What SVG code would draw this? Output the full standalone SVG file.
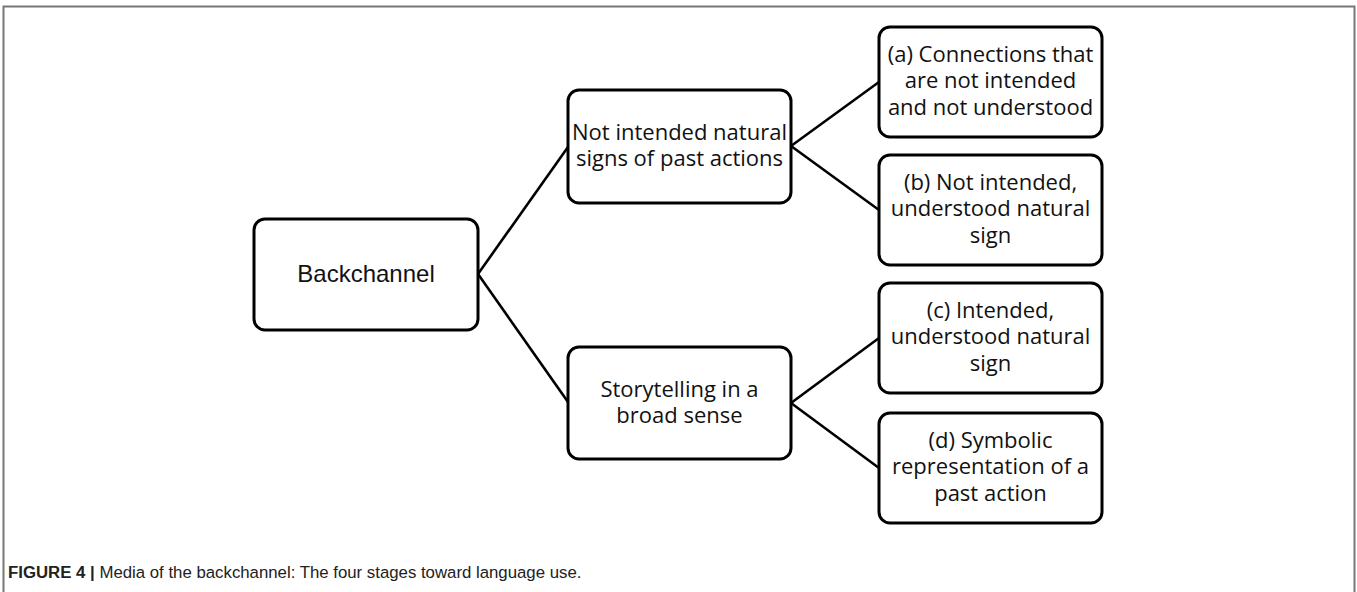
<svg xmlns="http://www.w3.org/2000/svg" width="1357" height="592" viewBox="0 0 1357 592">
  <style>
    .box { fill: #ffffff; stroke: #000000; stroke-width: 3; }
    .edge { stroke: #000000; stroke-width: 2.6; fill: none; }
    .lbl { font-family: "Open Sans", "Noto Sans", sans-serif; font-size: 22px; fill: #111111; text-anchor: middle; }
    .root { font-family: "Liberation Sans", Arial, sans-serif; font-size: 24px; fill: #111111; text-anchor: middle; }
    .cap { font-family: "Liberation Sans", Arial, sans-serif; font-size: 16.8px; fill: #222222; }
  </style>
  <rect width="1357" height="592" fill="#ffffff"/>
  <!-- figure frame: top, left and right rules -->
  <path d="M3.5 600 V6.5 H1354.5 V600" fill="none" stroke="#777777" stroke-width="2"/>

  <g id="connectors">
    <line class="edge" x1="478" y1="274" x2="568" y2="147"/>
    <line class="edge" x1="478" y1="274" x2="568" y2="402"/>
    <line class="edge" x1="791" y1="146" x2="879" y2="82"/>
    <line class="edge" x1="791" y1="146" x2="879" y2="210"/>
    <line class="edge" x1="791" y1="403" x2="879" y2="338"/>
    <line class="edge" x1="791" y1="403" x2="879" y2="468"/>
  </g>

  <g id="node-backchannel">
    <rect class="box" x="254" y="219" width="224" height="111" rx="11"/>
    <text class="root" x="366" y="282">Backchannel</text>
  </g>

  <g id="node-not-intended">
    <rect class="box" x="568" y="90" width="223" height="113" rx="11"/>
    <text class="lbl" x="679.5" y="140">Not intended natural</text>
    <text class="lbl" x="679.5" y="166">signs of past actions</text>
  </g>

  <g id="node-storytelling">
    <rect class="box" x="568" y="347" width="223" height="112" rx="11"/>
    <text class="lbl" x="679.5" y="396.5">Storytelling in a</text>
    <text class="lbl" x="679.5" y="422.5">broad sense</text>
  </g>

  <g id="node-a">
    <rect class="box" x="879" y="27" width="223" height="110" rx="11"/>
    <text class="lbl" x="990.5" y="61.5">(a) Connections that</text>
    <text class="lbl" x="990.5" y="88">are not intended</text>
    <text class="lbl" x="990.5" y="114.5">and not understood</text>
  </g>

  <g id="node-b">
    <rect class="box" x="879" y="155" width="223" height="110" rx="11"/>
    <text class="lbl" x="990.5" y="189.5">(b) Not intended,</text>
    <text class="lbl" x="990.5" y="216">understood natural</text>
    <text class="lbl" x="990.5" y="242.5">sign</text>
  </g>

  <g id="node-c">
    <rect class="box" x="879" y="283" width="223" height="110" rx="11"/>
    <text class="lbl" x="990.5" y="317.5">(c) Intended,</text>
    <text class="lbl" x="990.5" y="344">understood natural</text>
    <text class="lbl" x="990.5" y="370.5">sign</text>
  </g>

  <g id="node-d">
    <rect class="box" x="879" y="413" width="223" height="110" rx="11"/>
    <text class="lbl" x="990.5" y="447.5">(d) Symbolic</text>
    <text class="lbl" x="990.5" y="474">representation of a</text>
    <text class="lbl" x="990.5" y="500.5">past action</text>
  </g>

  <text class="cap" x="8" y="578"><tspan font-weight="bold">FIGURE 4 |</tspan> Media of the backchannel: The four stages toward language use.</text>
</svg>
